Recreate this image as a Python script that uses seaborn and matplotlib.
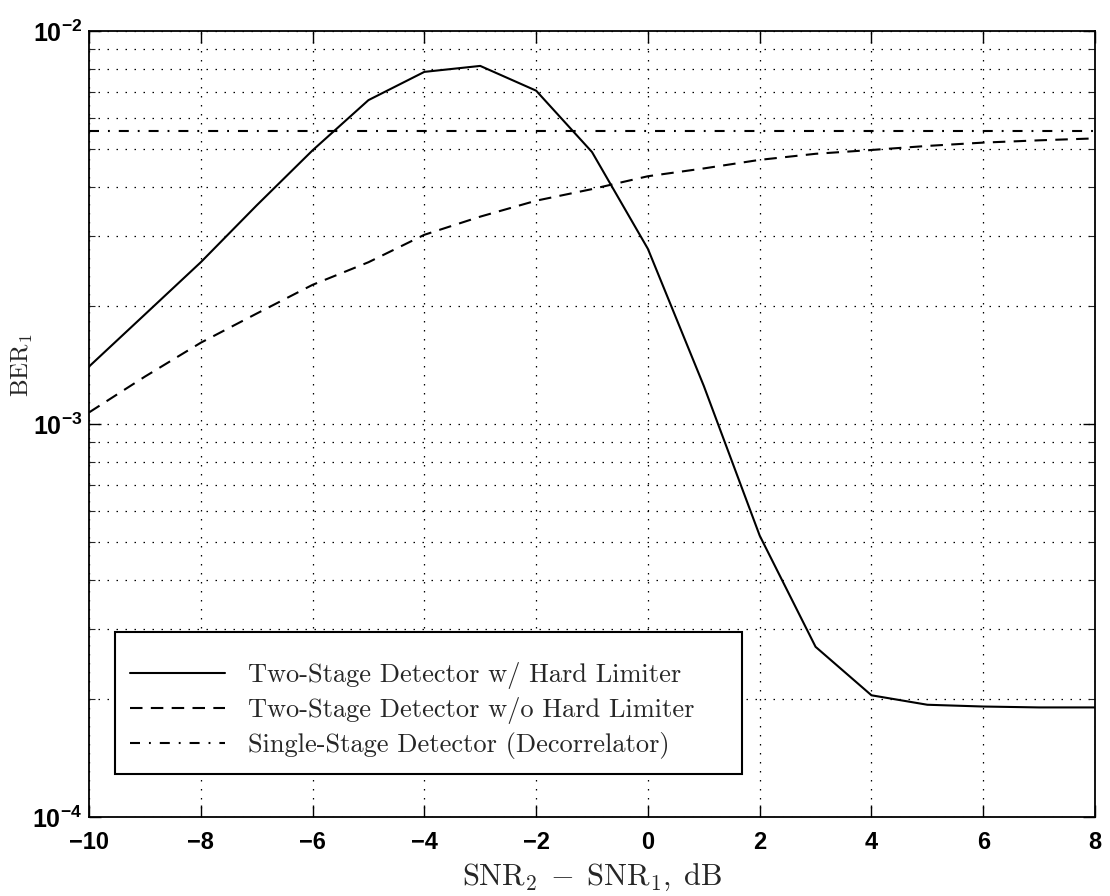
import numpy as np
import pandas as pd
import matplotlib
matplotlib.use("Agg")
import matplotlib.pyplot as plt
import matplotlib.ticker as mticker
import seaborn as sns

# SNR difference (dB) and bit-error-rate of user 1 for each detector
snr_diff = [-10, -9, -8, -7, -6, -5, -4, -3, -2, -1, 0, 1, 2, 3, 4, 5, 6, 7, 8]
ber_hard_limiter = [1.40e-3, 1.90e-3, 2.58e-3, 3.60e-3, 4.97e-3, 6.67e-3, 7.87e-3,
                    8.15e-3, 7.05e-3, 4.92e-3, 2.79e-3, 1.25e-3, 5.20e-4, 2.71e-4,
                    2.04e-4, 1.93e-4, 1.91e-4, 1.90e-4, 1.90e-4]
ber_no_limiter = [1.07e-3, 1.32e-3, 1.61e-3, 1.91e-3, 2.26e-3, 2.58e-3, 3.03e-3,
                  3.37e-3, 3.70e-3, 3.96e-3, 4.27e-3, 4.47e-3, 4.70e-3, 4.87e-3,
                  4.98e-3, 5.10e-3, 5.20e-3, 5.27e-3, 5.33e-3]
ber_decorrelator = [5.57e-3] * len(snr_diff)

series_labels = ["Two-Stage Detector w/ Hard Limiter",
                 "Two-Stage Detector w/o Hard Limiter",
                 "Single-Stage Detector (Decorrelator)"]
x_ticks = [-10, -8, -6, -4, -2, 0, 2, 4, 6, 8]
y_ticks = [1e-4, 1e-3, 1e-2]

sns.set_style("ticks")
plt.rcParams.update({
    "font.family": ["Liberation Sans", "DejaVu Sans"],
    "mathtext.fontset": "custom",
    "mathtext.rm": "cmr10",
    "mathtext.it": "cmr10",
    "mathtext.sf": "Liberation Sans:bold",
    "mathtext.fallback": "cm",
    "axes.unicode_minus": True,
})

fig = plt.figure(figsize=(11.10, 8.96), dpi=100)
ax = fig.add_axes([0.0802, 0.0882, 0.9063, 0.8772])

df = pd.DataFrame({
    "snr": snr_diff * 3,
    "ber": ber_hard_limiter + ber_no_limiter + ber_decorrelator,
    "detector": [series_labels[0]] * len(snr_diff)
              + [series_labels[1]] * len(snr_diff)
              + [series_labels[2]] * len(snr_diff),
})

line_styles = ["-", (0, (6.0, 4.0)), (0, (4.8, 4.3, 0.9, 4.3))]
for lab, ls in zip(series_labels, line_styles):
    sub = df[df["detector"] == lab]
    sns.lineplot(data=sub, x="snr", y="ber", ax=ax, color="black",
                 linewidth=1.5, linestyle=ls, label=lab, estimator=None,
                 errorbar=None)

ax.set_yscale("log")
ax.set_xlim(-10, 8)
ax.set_ylim(1e-4, 1e-2)

ax.set_xticks(x_ticks)
ax.xaxis.set_major_formatter(mticker.FuncFormatter(
    lambda v, p: f"{int(v)}".replace("-", "\u2212")))
ax.yaxis.set_major_locator(mticker.FixedLocator(y_ticks))
ax.yaxis.set_minor_locator(mticker.LogLocator(base=10, subs=np.arange(2, 10)))
ax.yaxis.set_minor_formatter(mticker.NullFormatter())
ax.yaxis.set_major_formatter(mticker.FuncFormatter(
    lambda v, p: r"$\mathsf{10^{%d}}$" % int(round(np.log10(v)))))

ax.tick_params(axis="both", which="major", direction="in", length=8.5,
               width=1.0, top=True, right=True, colors="black")
ax.tick_params(axis="x", which="major", pad=10, labelsize=17)
ax.tick_params(axis="y", which="major", pad=5, labelsize=18)
ax.tick_params(axis="y", which="minor", direction="in", length=4,
               width=0.8, left=True, right=True)
ax.tick_params(axis="x", which="minor", bottom=False, top=False)
for lbl in ax.get_xticklabels():
    lbl.set_fontweight("bold")

grid_style = dict(color="black", linewidth=0.9, linestyle=(0, (1.2, 6.0)))
ax.grid(True, which="major", axis="both", **grid_style)
ax.grid(True, which="minor", axis="y", **grid_style)

for side in ["left", "right", "top", "bottom"]:
    ax.spines[side].set_visible(True)
    ax.spines[side].set_color("black")
    ax.spines[side].set_linewidth(1.3)

ax.set_xlabel(r"$\mathrm{SNR}_2\;-\;\mathrm{SNR}_1,\;\mathrm{dB}$", fontsize=22,
              labelpad=6)
ax.set_ylabel(r"$\mathrm{BER}_1$", fontsize=18, va="center")
ax.yaxis.set_label_coords(-0.066, 0.575)

leg = ax.legend(loc="lower left", bbox_to_anchor=(0.026, 0.055, 0.623, 0.18),
                mode="expand", borderaxespad=0, fancybox=False, shadow=False,
                framealpha=1.0, edgecolor="black", handlelength=3.6,
                handletextpad=0.87, labelspacing=0.31, borderpad=0.55,
                title=" ", title_fontsize=5,
                prop={"family": "cmr10", "size": 19})
leg.get_frame().set_linewidth(1.5)

fig.savefig("out.png", dpi=100, facecolor="white")
